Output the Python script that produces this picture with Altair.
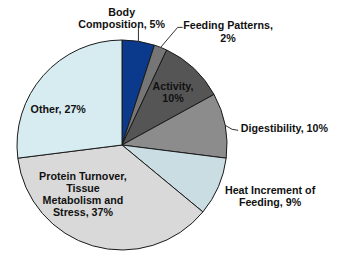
import altair as alt
import pandas as pd

categories = ["Body Composition", "Feeding Patterns", "Activity", "Digestibility",
              "Heat Increment of Feeding", "Protein Turnover, Tissue Metabolism and Stress", "Other"]
values = [5, 2, 10, 10, 9, 37, 27]
labels = ["Body\nComposition, 5%", "Feeding Patterns,\n2%", "Activity,\n10%", "Digestibility, 10%",
          "Heat Increment of\nFeeding, 9%", "Protein Turnover,\nTissue\nMetabolism and\nStress, 37%",
          "Other, 27%"]
colors = ["#0b3a8c", "#767676", "#555555", "#8c8c8c", "#cadde3", "#d9d9d9", "#d7ecf1"]

df = pd.DataFrame({"category": categories, "value": values, "label": labels,
                   "order": list(range(len(categories)))})

W, H = 244, 228
CX, CY, R = W / 2, H / 2, 105

base = alt.Chart(df).transform_window(
    cum="sum(value)", sort=[alt.SortField("order")], frame=[None, 0]
).transform_calculate(
    start="datum.cum - datum.value",
    mid="datum.cum - datum.value / 2",
    ang="(datum.cum - datum.value / 2) * PI / 50",
).transform_calculate(
    ex=f"{CX} + {R} * sin(datum.ang)",
    ey=f"{CY} - {R} * cos(datum.ang)",
)

theta_scale = alt.Scale(domain=[0, 100])

pie = base.mark_arc(outerRadius=R, stroke="#1a1a1a", strokeWidth=1).encode(
    theta=alt.Theta("start:Q", scale=theta_scale),
    theta2="cum:Q",
    color=alt.Color("category:N", scale=alt.Scale(domain=categories, range=colors), legend=None),
)

label_style = {
    "Body Composition": dict(radius=126, dx=-20, dy=-7.5, align="center"),
    "Feeding Patterns": dict(radius=121, dx=61.5, dy=-6, align="center"),
    "Activity": dict(radius=73, dx=1, dy=-5, align="center"),
    "Digestibility": dict(radius=120, dx=1, dy=6.5, align="left"),
    "Heat Increment of Feeding": dict(radius=145, dx=15, dy=-11.5, align="center"),
    "Protein Turnover, Tissue Metabolism and Stress": dict(radius=55, dx=-23.7, dy=-21.3, align="center"),
    "Other": dict(radius=73, dx=-9, dy=13, align="center"),
}

text_layers = []
for cat in categories:
    st = label_style[cat]
    t = base.transform_filter(alt.datum.category == cat).mark_text(
        font="Liberation Sans", fontWeight="bold", fontSize=10.7, color="#111111",
        lineBreak="\n", lineHeight=12.3, baseline="middle", **st
    ).encode(theta=alt.Theta("mid:Q", scale=theta_scale), text="label:N")
    text_layers.append(t)

def seg(cat, x1, y1, x2, y2):
    return base.transform_filter(alt.datum.category == cat).transform_calculate(
        lx1=x1, ly1=y1, lx2=x2, ly2=y2
    ).mark_rule(color="#333333", strokeWidth=1).encode(
        x=alt.X("lx1:Q", scale=None), y=alt.Y("ly1:Q", scale=None),
        x2="lx2:Q", y2="ly2:Q",
    )

leaders = [
    seg("Body Composition", "datum.ex", "datum.ey", "datum.ex", "datum.ey - 16"),
    seg("Feeding Patterns", "datum.ex", "datum.ey", "datum.ex + 17", "datum.ey - 20"),
    seg("Feeding Patterns", "datum.ex + 17", "datum.ey - 20", "datum.ex + 22", "datum.ey - 20"),
    seg("Digestibility", "datum.ex", "datum.ey", "datum.ex + 7", "datum.ey + 4"),
    seg("Digestibility", "datum.ex + 7", "datum.ey + 4", "datum.ex + 13", "datum.ey + 5"),
]

chart = alt.layer(pie, *leaders, *text_layers).properties(
    width=W, height=H,
    padding={"left": 0, "top": 31, "right": 97, "bottom": 0},
    autosize=alt.AutoSizeParams(type="none"),
    background="white",
).configure_view(stroke=None)

chart.save("out.html", embed_options={"renderer": "svg", "actions": False})
